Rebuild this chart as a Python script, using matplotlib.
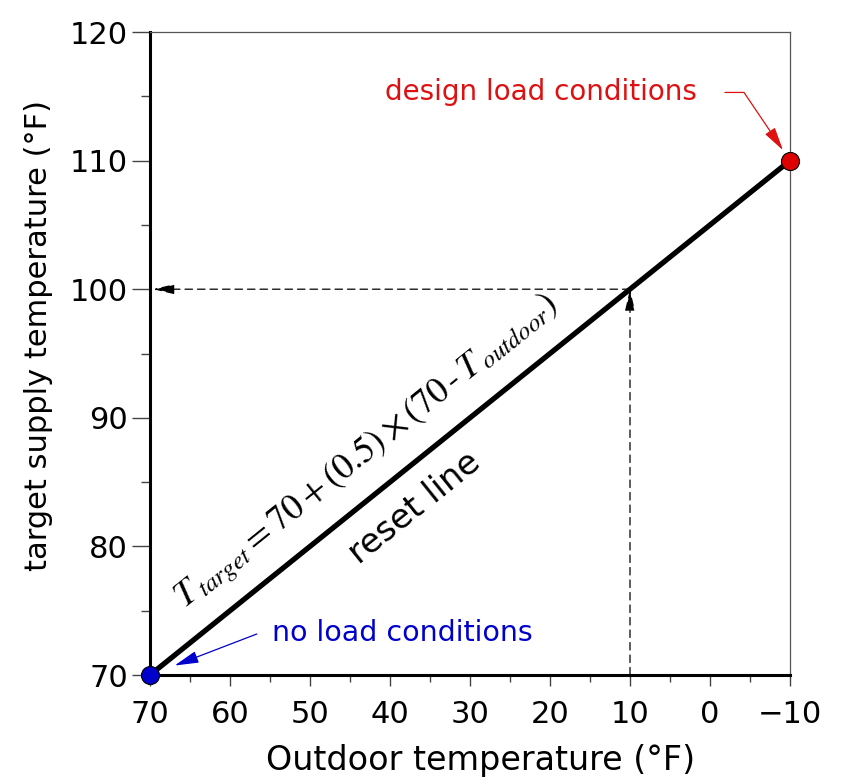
import matplotlib.pyplot as plt
import numpy as np

# reset line end points (outdoor temp, target supply temp)
outdoor = [70, -10]
target = [70, 110]

# marked conditions
no_load = (70, 70)
design_load = (-10, 110)

# example reading off the reset line
example_outdoor = 10
example_target = 100

x_ticks = [70, 60, 50, 40, 30, 20, 10, 0, -10]
y_ticks = [70, 80, 90, 100, 110, 120]


def create_chart():
    fig = plt.figure(figsize=(8.44, 7.8), dpi=100)
    ax = fig.add_axes([150 / 844, 105 / 780, 640 / 844, 643 / 780])

    ax.set_xlim(70, -10)
    ax.set_ylim(70, 120)
    ax.set_xticks(x_ticks)
    ax.set_yticks(y_ticks)
    ax.set_xticks(np.array(x_ticks[:-1]) - 5, minor=True)
    ax.set_yticks(np.array(y_ticks[:-1]) + 5, minor=True)

    # spines: heavy left/bottom, light top/right
    for side in ['left', 'bottom']:
        ax.spines[side].set_linewidth(2.2)
        ax.spines[side].set_color('black')
    for side in ['top', 'right']:
        ax.spines[side].set_linewidth(0.9)
        ax.spines[side].set_color('#555555')

    ax.tick_params(axis='y', which='major', length=13, width=1, color='#444444',
                   labelsize=22, pad=3)
    ax.tick_params(axis='y', which='minor', length=6.5, width=1, color='#444444')
    ax.tick_params(axis='x', which='major', length=8, width=1, color='#444444',
                   labelsize=22, pad=10)
    ax.tick_params(axis='x', which='minor', length=5, width=1, color='#444444')

    ax.set_xlabel('Outdoor temperature (°F)', fontsize=24, labelpad=11)
    ax.set_ylabel('target supply temperature (°F)', fontsize=22)
    ax.yaxis.set_label_coords(-0.151, 0.528)
    ax.xaxis.label.set_x(0.516)

    # dashed guide lines with arrowheads
    guide = dict(arrowstyle='-|>,head_length=1.3,head_width=0.3',
                 linestyle=(0, (6, 4)), color='black', lw=0.9, shrinkA=0)
    ax.annotate('', xy=(example_outdoor, example_target), xytext=(example_outdoor, 70),
                arrowprops=dict(guide, shrinkB=0))
    ax.annotate('', xy=(70, example_target), xytext=(example_outdoor, example_target),
                arrowprops=dict(guide, shrinkB=2))

    # reset line
    ax.plot(outdoor, target, color='black', lw=3.8, solid_capstyle='butt', zorder=3)

    # condition markers
    ax.plot(*no_load, 'o', ms=13, color='#0000cc', mec='black', mew=0.8,
            zorder=5, clip_on=False)
    ax.plot(*design_load, 'o', ms=13, color='#dd0000', mec='black', mew=0.8,
            zorder=5, clip_on=False)

    # angle of the reset line on screen
    fig.canvas.draw()
    p0 = ax.transData.transform((outdoor[0], target[0]))
    p1 = ax.transData.transform((outdoor[1], target[1]))
    ang = np.degrees(np.arctan2(p1[1] - p0[1], p1[0] - p0[0]))

    ax.text(42.9, 87.3,
            r'$T_{\,target} = 70 + \left(0.5\right)\times\left(70\,\text{-}\,T_{\,outdoor}\right)$',
            fontsize=26, rotation=ang, rotation_mode='anchor',
            ha='center', va='center', math_fontfamily='stix')
    ax.text(36.9, 83.0, 'reset line', fontsize=24.5, rotation=ang,
            rotation_mode='anchor', ha='center', va='center')

    # labelled conditions
    head = '-|>,head_length=0.72,head_width=0.18'
    ax.annotate('design load conditions', xy=design_load, xytext=(1.6, 115.3),
                fontsize=20, color='#dd1111', ha='right', va='center',
                arrowprops=dict(arrowstyle=head, color='#dd1111', lw=0.9,
                                shrinkA=18, shrinkB=9,
                                connectionstyle='angle,angleA=0,angleB=124,rad=0'))
    ax.annotate('no load conditions', xy=no_load, xytext=(54.75, 73.3),
                fontsize=20.5, color='#0000cc', ha='left', va='center',
                arrowprops=dict(arrowstyle=head, color='#0000cc', lw=0.9,
                                shrinkA=9, shrinkB=19,
                                connectionstyle='angle,angleA=0,angleB=21,rad=0'))
    return fig


if __name__ == "__main__":
    fig = create_chart()
    plt.savefig('out.png', dpi=100, facecolor='white')
    plt.close()
